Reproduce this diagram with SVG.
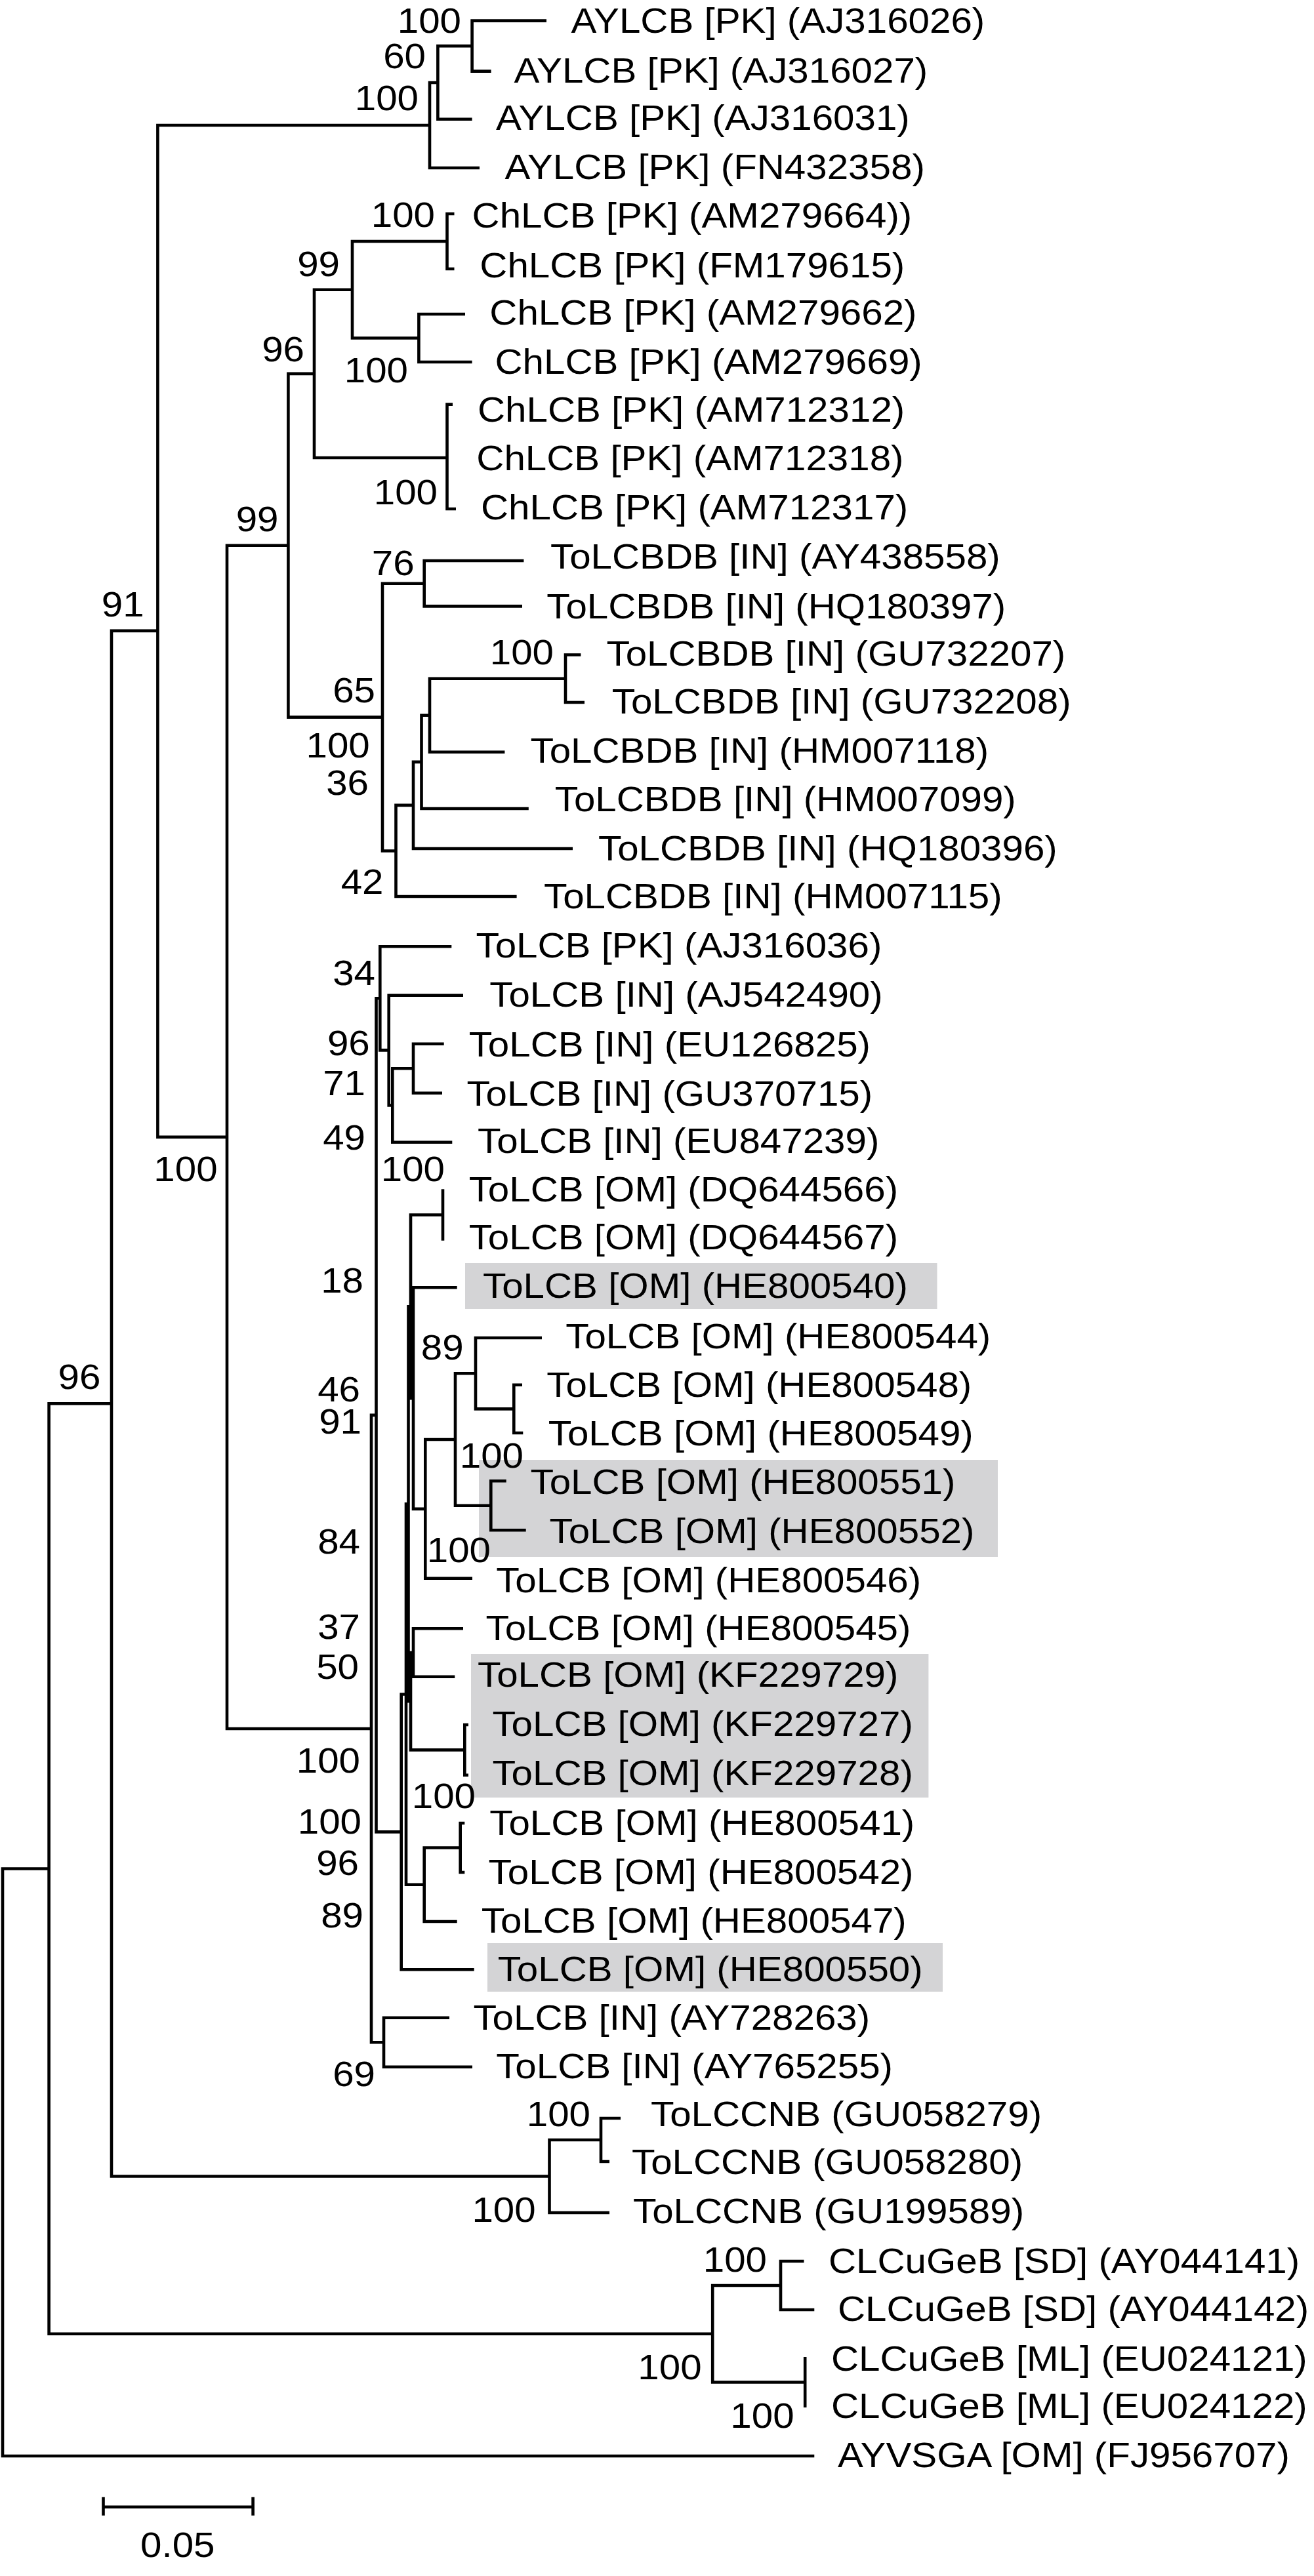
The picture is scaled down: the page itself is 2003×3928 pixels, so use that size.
<svg xmlns="http://www.w3.org/2000/svg" width="2003" height="3928" viewBox="0 0 2003 3928">
<style>
.br{fill:none;stroke:#000;stroke-width:4.6;stroke-linejoin:miter;stroke-linecap:butt}
text{font-family:"Liberation Sans",Arial,Helvetica,sans-serif;font-size:53px;fill:#000}
.b{text-anchor:end}
.hl{fill:#d4d4d6}
</style>
<rect width="2003" height="3928" fill="#fff"/>
<g id="highlights">
<rect class="hl" x="709" y="1926" width="719.5" height="70"/>
<rect class="hl" x="730" y="2226" width="791" height="148"/>
<rect class="hl" x="718" y="2522" width="697.4" height="219"/>
<rect class="hl" x="743" y="2963" width="694" height="74"/>
</g>
<g id="connectors">
<path class="br" d="M833 31.6 H719.6 V108.6 H748.6"/>
<path class="br" d="M719.6 70.1 H667.4 V181.8 H719.6"/>
<path class="br" d="M667.4 126 H655 V256 H731"/>
<path class="br" d="M655 191 H240.4 V1733.9 H346"/>
<path class="br" d="M692.5 326 H681.5 V410 H692.5"/>
<path class="br" d="M709 479 H638.4 V552 H719.6"/>
<path class="br" d="M681.5 368 H537 V515.5 H638.4"/>
<path class="br" d="M690 616.6 H681.5 V776 H695"/>
<path class="br" d="M537 441.8 H479 V698 H681.5"/>
<path class="br" d="M479 569.9 H439.4 V1093.6 H583"/>
<path class="br" d="M439.4 831.7 H346 V2636 H566"/>
<path class="br" d="M798.4 855 H646.7 V924.4 H796"/>
<path class="br" d="M646.7 889.7 H583 V1297.5 H603.5"/>
<path class="br" d="M885.4 998.5 H862 V1071 H891"/>
<path class="br" d="M862 1034.8 H655 V1146.7 H769.4"/>
<path class="br" d="M655 1090.7 H642.5 V1233 H805.8"/>
<path class="br" d="M642.5 1161.9 H630 V1294 H873"/>
<path class="br" d="M630 1227.9 H603.5 V1367 H787.6"/>
<path class="br" d="M240.4 961.9 H170 V3318.5 H837.5"/>
<path class="br" d="M170 2140.2 H74.6 V3558.8 H1086.2"/>
<path class="br" d="M74.6 2849.5 H4 V3745 H1241.3"/>
<path class="br" d="M573.5 2157.9 H566 V3114.2 H585"/>
<path class="br" d="M579.3 1522.3 H573.5 V2793.4 H611.7"/>
<path class="br" d="M688.3 1443.3 H579.3 V1601.4 H592.7"/>
<path class="br" d="M706 1517.7 H592.7 V1685.5 H598.3"/>
<path class="br" d="M630 1629.2 H598.3 V1741.7 H689.3"/>
<path class="br" d="M676.7 1591.7 H630 V1666.7 H674"/>
<path class="br" d="M685 3076.7 H585 V3151.7 H720"/>
<path class="br" d="M619 2583.5 H611.7 V3003.3 H722.7"/>
<path class="br" d="M622.5 2293.3 H619 V2873.8 H646.7"/>
<path class="br" d="M626 1992.3 H622.5 V2594.2 H626"/>
<path class="br" d="M675 1852.5 H626 V2132.1 H630"/>
<path class="br" d="M675 1813.3 V1891.7"/>
<path class="br" d="M696.7 1963.3 H630 V2300.9 H648.3"/>
<path class="br" d="M694 2195 H648.3 V2406.7 H720"/>
<path class="br" d="M725 2094.2 H694 V2295.8 H748.3"/>
<path class="br" d="M826 2040 H725 V2148.4 H783.3"/>
<path class="br" d="M796 2111.7 H783.3 V2185 H797.3"/>
<path class="br" d="M771.7 2258.3 H748.3 V2333.3 H801.7"/>
<path class="br" d="M630 2520 H626 V2668.4 H708.3"/>
<path class="br" d="M706 2483.3 H630 V2556.7 H693.3"/>
<path class="br" d="M714 2630 H708.3 V2706.7 H714"/>
<path class="br" d="M701.7 2817.5 H646.7 V2930 H696.7"/>
<path class="br" d="M708.3 2780 H701.7 V2855 H708.3"/>
<path class="br" d="M946 3230 H916 V3296 H929"/>
<path class="br" d="M916 3263 H837.5 V3374 H929"/>
<path class="br" d="M1225.5 3448 H1190 V3522 H1241.3"/>
<path class="br" d="M1227.2 3594 V3671"/>
<path class="br" d="M1190 3485 H1086.2 V3632.5 H1227.2"/>
</g>
<g id="leaf-1"><text transform="matrix(1.1 0 0 1 870.5 50.3)">AYLCB [PK] (AJ316026)</text></g>
<g id="leaf-2"><text transform="matrix(1.1 0 0 1 783.5 125.5)">AYLCB [PK] (AJ316027)</text></g>
<g id="leaf-3"><text transform="matrix(1.1 0 0 1 756 198)">AYLCB [PK] (AJ316031)</text></g>
<g id="leaf-4"><text transform="matrix(1.1 0 0 1 769.4 273.4)">AYLCB [PK] (FN432358)</text></g>
<g id="leaf-5"><text transform="matrix(1.1 0 0 1 719.6 347.3)">ChLCB [PK] (AM279664))</text></g>
<g id="leaf-6"><text transform="matrix(1.1 0 0 1 731.3 422.5)">ChLCB [PK] (FM179615)</text></g>
<g id="leaf-7"><text transform="matrix(1.1 0 0 1 746.3 495)">ChLCB [PK] (AM279662)</text></g>
<g id="leaf-8"><text transform="matrix(1.1 0 0 1 754.5 570.4)">ChLCB [PK] (AM279669)</text></g>
<g id="leaf-9"><text transform="matrix(1.1 0 0 1 728 643)">ChLCB [PK] (AM712312)</text></g>
<g id="leaf-10"><text transform="matrix(1.1 0 0 1 726.3 717)">ChLCB [PK] (AM712318)</text></g>
<g id="leaf-11"><text transform="matrix(1.1 0 0 1 733 792)">ChLCB [PK] (AM712317)</text></g>
<g id="leaf-12"><text transform="matrix(1.1 0 0 1 839 867.4)">ToLCBDB [IN] (AY438558)</text></g>
<g id="leaf-13"><text transform="matrix(1.1 0 0 1 833.3 942.6)">ToLCBDB [IN] (HQ180397)</text></g>
<g id="leaf-14"><text transform="matrix(1.1 0 0 1 924.5 1015)">ToLCBDB [IN] (GU732207)</text></g>
<g id="leaf-15"><text transform="matrix(1.1 0 0 1 932.8 1088)">ToLCBDB [IN] (GU732208)</text></g>
<g id="leaf-16"><text transform="matrix(1.1 0 0 1 808.5 1163)">ToLCBDB [IN] (HM007118)</text></g>
<g id="leaf-17"><text transform="matrix(1.1 0 0 1 845.8 1237)">ToLCBDB [IN] (HM007099)</text></g>
<g id="leaf-18"><text transform="matrix(1.1 0 0 1 912 1312)">ToLCBDB [IN] (HQ180396)</text></g>
<g id="leaf-19"><text transform="matrix(1.1 0 0 1 829 1385)">ToLCBDB [IN] (HM007115)</text></g>
<g id="leaf-20"><text transform="matrix(1.1 0 0 1 725.5 1460)">ToLCB [PK] (AJ316036)</text></g>
<g id="leaf-21"><text transform="matrix(1.1 0 0 1 746.3 1535)">ToLCB [IN] (AJ542490)</text></g>
<g id="leaf-22"><text transform="matrix(1.1 0 0 1 714.7 1610.5)">ToLCB [IN] (EU126825)</text></g>
<g id="leaf-23"><text transform="matrix(1.1 0 0 1 711.4 1685.7)">ToLCB [IN] (GU370715)</text></g>
<g id="leaf-24"><text transform="matrix(1.1 0 0 1 728 1758.3)">ToLCB [IN] (EU847239)</text></g>
<g id="leaf-25"><text transform="matrix(1.1 0 0 1 714.7 1832.3)">ToLCB [OM] (DQ644566)</text></g>
<g id="leaf-26"><text transform="matrix(1.1 0 0 1 714.7 1905)">ToLCB [OM] (DQ644567)</text></g>
<g id="leaf-27"><text transform="matrix(1.1 0 0 1 736 1979)">ToLCB [OM] (HE800540)</text></g>
<g id="leaf-28"><text transform="matrix(1.1 0 0 1 862.3 2055.7)">ToLCB [OM] (HE800544)</text></g>
<g id="leaf-29"><text transform="matrix(1.1 0 0 1 833.3 2129.6)">ToLCB [OM] (HE800548)</text></g>
<g id="leaf-30"><text transform="matrix(1.1 0 0 1 835.8 2203.6)">ToLCB [OM] (HE800549)</text></g>
<g id="leaf-31"><text transform="matrix(1.1 0 0 1 808.5 2277.5)">ToLCB [OM] (HE800551)</text></g>
<g id="leaf-32"><text transform="matrix(1.1 0 0 1 837.5 2352.7)">ToLCB [OM] (HE800552)</text></g>
<g id="leaf-33"><text transform="matrix(1.1 0 0 1 756.2 2428)">ToLCB [OM] (HE800546)</text></g>
<g id="leaf-34"><text transform="matrix(1.1 0 0 1 740.5 2500.5)">ToLCB [OM] (HE800545)</text></g>
<g id="leaf-35"><text transform="matrix(1.1 0 0 1 728 2572)">ToLCB [OM] (KF229729)</text></g>
<g id="leaf-36"><text transform="matrix(1.1 0 0 1 750.4 2647)">ToLCB [OM] (KF229727)</text></g>
<g id="leaf-37"><text transform="matrix(1.1 0 0 1 750.4 2722.3)">ToLCB [OM] (KF229728)</text></g>
<g id="leaf-38"><text transform="matrix(1.1 0 0 1 746.3 2797.5)">ToLCB [OM] (HE800541)</text></g>
<g id="leaf-39"><text transform="matrix(1.1 0 0 1 744.6 2872.7)">ToLCB [OM] (HE800542)</text></g>
<g id="leaf-40"><text transform="matrix(1.1 0 0 1 733.8 2946.7)">ToLCB [OM] (HE800547)</text></g>
<g id="leaf-41"><text transform="matrix(1.1 0 0 1 758.7 3020.6)">ToLCB [OM] (HE800550)</text></g>
<g id="leaf-42"><text transform="matrix(1.1 0 0 1 721.4 3094.5)">ToLCB [IN] (AY728263)</text></g>
<g id="leaf-43"><text transform="matrix(1.1 0 0 1 756.2 3168.5)">ToLCB [IN] (AY765255)</text></g>
<g id="leaf-44"><text transform="matrix(1.1 0 0 1 992 3242.4)">ToLCCNB (GU058279)</text></g>
<g id="leaf-45"><text transform="matrix(1.1 0 0 1 963 3315)">ToLCCNB (GU058280)</text></g>
<g id="leaf-46"><text transform="matrix(1.1 0 0 1 965 3390.3)">ToLCCNB (GU199589)</text></g>
<g id="leaf-47"><text transform="matrix(1.1 0 0 1 1263 3465.5)">CLCuGeB [SD] (AY044141)</text></g>
<g id="leaf-48"><text transform="matrix(1.1 0 0 1 1277 3539.4)">CLCuGeB [SD] (AY044142)</text></g>
<g id="leaf-49"><text transform="matrix(1.1 0 0 1 1267 3614.6)">CLCuGeB [ML] (EU024121)</text></g>
<g id="leaf-50"><text transform="matrix(1.1 0 0 1 1267 3687.3)">CLCuGeB [ML] (EU024122)</text></g>
<g id="leaf-51"><text transform="matrix(1.1 0 0 1 1277 3762.4)">AYVSGA [OM] (FJ956707)</text></g>
<g id="bootstrap">
<text class="b" transform="matrix(1.1 0 0 1 703 50)">100</text>
<text class="b" transform="matrix(1.1 0 0 1 649 104.4)">60</text>
<text class="b" transform="matrix(1.1 0 0 1 638 168)">100</text>
<text class="b" transform="matrix(1.1 0 0 1 663 346)">100</text>
<text class="b" transform="matrix(1.1 0 0 1 518 421)">99</text>
<text class="b" transform="matrix(1.1 0 0 1 464 551)">96</text>
<text class="b" transform="matrix(1.1 0 0 1 622 583)">100</text>
<text class="b" transform="matrix(1.1 0 0 1 667 769)">100</text>
<text class="b" transform="matrix(1.1 0 0 1 424.5 810)">99</text>
<text class="b" transform="matrix(1.1 0 0 1 219.7 940)">91</text>
<text class="b" transform="matrix(1.1 0 0 1 631.7 877)">76</text>
<text class="b" transform="matrix(1.1 0 0 1 844 1012.8)">100</text>
<text class="b" transform="matrix(1.1 0 0 1 572 1071)">65</text>
<text class="b" transform="matrix(1.1 0 0 1 563.8 1155)">100</text>
<text class="b" transform="matrix(1.1 0 0 1 562 1212)">36</text>
<text class="b" transform="matrix(1.1 0 0 1 584.5 1363)">42</text>
<text class="b" transform="matrix(1.1 0 0 1 572 1502)">34</text>
<text class="b" transform="matrix(1.1 0 0 1 563.8 1609)">96</text>
<text class="b" transform="matrix(1.1 0 0 1 557 1670)">71</text>
<text class="b" transform="matrix(1.1 0 0 1 557 1752.5)">49</text>
<text class="b" transform="matrix(1.1 0 0 1 678 1801)">100</text>
<text class="b" transform="matrix(1.1 0 0 1 331.6 1801)">100</text>
<text class="b" transform="matrix(1.1 0 0 1 554 1971)">18</text>
<text class="b" transform="matrix(1.1 0 0 1 706.7 2073)">89</text>
<text class="b" transform="matrix(1.1 0 0 1 549 2137)">46</text>
<text class="b" transform="matrix(1.1 0 0 1 551 2185.7)">91</text>
<text class="b" transform="matrix(1.1 0 0 1 153.4 2118.4)">96</text>
<text class="b" transform="matrix(1.1 0 0 1 798 2238)">100</text>
<text class="b" transform="matrix(1.1 0 0 1 549 2368.8)">84</text>
<text class="b" transform="matrix(1.1 0 0 1 748 2381.7)">100</text>
<text class="b" transform="matrix(1.1 0 0 1 549 2499)">37</text>
<text class="b" transform="matrix(1.1 0 0 1 547 2560)">50</text>
<text class="b" transform="matrix(1.1 0 0 1 549 2703)">100</text>
<text class="b" transform="matrix(1.1 0 0 1 725 2756.6)">100</text>
<text class="b" transform="matrix(1.1 0 0 1 551 2795.7)">100</text>
<text class="b" transform="matrix(1.1 0 0 1 547 2858.8)">96</text>
<text class="b" transform="matrix(1.1 0 0 1 554 2938.8)">89</text>
<text class="b" transform="matrix(1.1 0 0 1 572 3180.8)">69</text>
<text class="b" transform="matrix(1.1 0 0 1 900 3241.9)">100</text>
<text class="b" transform="matrix(1.1 0 0 1 816.7 3387.5)">100</text>
<text class="b" transform="matrix(1.1 0 0 1 1169 3464)">100</text>
<text class="b" transform="matrix(1.1 0 0 1 1069.6 3628)">100</text>
<text class="b" transform="matrix(1.1 0 0 1 1210.6 3701.8)">100</text>
</g>
<g id="scale-bar">
<path class="br" d="M157.5 3822.8 H385.6 M157.5 3807.7 V3835.8 M385.6 3807.7 V3835.8"/>
<text transform="matrix(1.1 0 0 1 270.8 3898.5)" text-anchor="middle">0.05</text>
</g>
</svg>
